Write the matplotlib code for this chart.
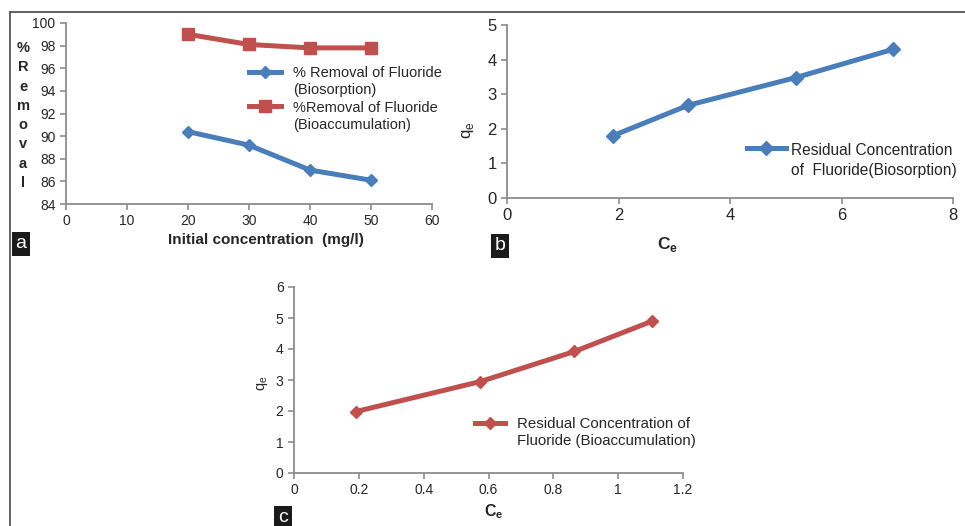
import matplotlib
matplotlib.use("Agg")
import matplotlib.pyplot as plt
from matplotlib.lines import Line2D

plt.rcParams['font.family'] = ['Liberation Sans', 'DejaVu Sans']

# ---- data ----
conc = [20, 30, 40, 50]
removal_bios = [90.4, 89.2, 87.0, 86.1]
removal_bioacc = [99.0, 98.1, 97.8, 97.8]

ce_bios = [1.9, 3.25, 5.18, 6.93]
qe_bios = [1.8, 2.68, 3.48, 4.3]

ce_bioacc = [0.19, 0.575, 0.865, 1.105]
qe_bioacc = [1.98, 2.95, 3.92, 4.9]

a_xticks = [0, 10, 20, 30, 40, 50, 60]
a_yticks = [84, 86, 88, 90, 92, 94, 96, 98, 100]
b_xticks = [0, 2, 4, 6, 8]
b_yticks = [0, 1, 2, 3, 4, 5]
c_xticks = [0, 0.2, 0.4, 0.6, 0.8, 1, 1.2]
c_yticks = [0, 1, 2, 3, 4, 5, 6]

BLUE = '#4a7ebb'
RED = '#c0504d'
GRAY = '#8c8c8c'
TXT = '#262626'

W, H = 965, 526
fig = plt.figure(figsize=(W / 100, H / 100), dpi=100)


def px_axes(l, t, r, b):
    return fig.add_axes([l / W, 1 - b / H, (r - l) / W, (b - t) / H])


def style(ax, fs):
    for s in ['top', 'right']:
        ax.spines[s].set_visible(False)
    for s in ['left', 'bottom']:
        ax.spines[s].set_color(GRAY)
        ax.spines[s].set_linewidth(1.3)
    ax.tick_params(axis='both', colors=GRAY, labelcolor=TXT, labelsize=fs,
                   length=4, width=1.2, direction='out')
    ax.patch.set_alpha(0)


def top_align(leg, ls):
    # align legend handles with the first line of each (two-line) label
    for t in leg.get_texts():
        t.set_linespacing(ls)
    for col in leg._legend_handle_box.get_children():
        for hp in col.get_children():
            hp.align = 'top'


def fmt(v):
    return '%g' % v


# frame lines
fig.add_artist(Line2D([10 / W, 1], [1 - 12 / H, 1 - 12 / H], color='#555555', lw=1.3))
fig.add_artist(Line2D([10 / W, 10 / W], [0, 1 - 12 / H], color='#555555', lw=1.3))

# ---- panel a ----
axa = px_axes(66, 23, 432, 204)
axa.plot(conc, removal_bios, color=BLUE, lw=3.6, marker='D', ms=6,
         label='% Removal of Fluoride\n(Biosorption)')
axa.plot(conc, removal_bioacc, color=RED, lw=3.6, marker='s', ms=8,
         label='%Removal of Fluoride\n(Bioaccumulation)')
axa.set_xlim(0, 60)
axa.set_ylim(84, 100)
axa.set_xticks(a_xticks)
axa.set_yticks(a_yticks)
axa.set_xticklabels([fmt(v) for v in a_xticks])
axa.set_yticklabels([fmt(v) for v in a_yticks])
style(axa, 10)
lga = axa.legend(loc='upper left', bbox_to_anchor=(0.48, 0.80), frameon=False,
                 fontsize=10.5, handlelength=2.2, labelspacing=0.25, borderpad=0,
                 handletextpad=0.8, labelcolor=TXT)
top_align(lga, 1.25)
fig.text(266 / W, 1 - 240 / H, 'Initial concentration  (mg/l)', ha='center',
         va='center', fontsize=11, fontweight='bold', color=TXT)
letters = ['%', 'R', 'e', 'm', 'o', 'v', 'a', 'l']
for i, ch in enumerate(letters):
    fig.text(23 / W, 1 - (48 + i * 19.3) / H, ch, ha='center', va='center',
             fontsize=10.5, fontweight='bold', color=TXT)
fig.text(21 / W, 1 - 244 / H, 'a', ha='center', va='center', fontsize=14,
         color='white', bbox=dict(boxstyle='square,pad=0.2', fc='#1a1a1a', ec='none'))

# ---- panel b ----
axb = px_axes(507, 25, 953, 198)
axb.plot(ce_bios, qe_bios, color=BLUE, lw=3.6, marker='D', ms=7,
         label='Residual Concentration\nof  Fluoride(Biosorption)')
axb.set_xlim(0, 8)
axb.set_ylim(0, 5)
axb.set_xticks(b_xticks)
axb.set_yticks(b_yticks)
axb.set_xticklabels([fmt(v) for v in b_xticks])
axb.set_yticklabels([fmt(v) for v in b_yticks])
style(axb, 12)
lgb = axb.legend(loc='upper left', bbox_to_anchor=(0.52, 0.365), frameon=False,
                 fontsize=11.2, handlelength=2.5, labelspacing=0.1, borderpad=0,
                 handletextpad=0.35, labelcolor=TXT)
top_align(lgb, 1.45)
fig.text(468 / W, 1 - 130 / H, r'q$_\mathregular{e}$', ha='center', va='center',
         rotation=90, fontsize=12, color=TXT)
fig.text(668 / W, 1 - 245 / H, r'C$_\mathregular{e}$', ha='center', va='center',
         fontsize=12.5, fontweight='bold', color=TXT)
fig.text(500 / W, 1 - 246 / H, 'b', ha='center', va='center', fontsize=14,
         color='white', bbox=dict(boxstyle='square,pad=0.2', fc='#1a1a1a', ec='none'))

# ---- panel c ----
axc = px_axes(294, 287, 683, 473)
axc.plot(ce_bioacc, qe_bioacc, color=RED, lw=3.6, marker='D', ms=6,
         label='Residual Concentration of\nFluoride (Bioaccumulation)')
axc.set_xlim(0, 1.2)
axc.set_ylim(0, 6)
axc.set_xticks(c_xticks)
axc.set_yticks(c_yticks)
axc.set_xticklabels([fmt(v) for v in c_xticks])
axc.set_yticklabels([fmt(v) for v in c_yticks])
style(axc, 10)
lgc = axc.legend(loc='upper left', bbox_to_anchor=(0.445, 0.34), frameon=False,
                 fontsize=10.8, handlelength=2.0, labelspacing=0.1, borderpad=0,
                 handletextpad=0.8, labelcolor=TXT)
top_align(lgc, 1.27)
fig.text(262 / W, 1 - 383 / H, r'q$_\mathregular{e}$', ha='center', va='center',
         rotation=90, fontsize=10.5, color=TXT)
fig.text(494 / W, 1 - 512 / H, r'C$_\mathregular{e}$', ha='center', va='center',
         fontsize=11.5, fontweight='bold', color=TXT)
fig.text(283 / W, 1 - 518 / H, 'c', ha='center', va='center', fontsize=14,
         color='white', bbox=dict(boxstyle='square,pad=0.2', fc='#1a1a1a', ec='none'))

fig.savefig('out.png', dpi=100)
